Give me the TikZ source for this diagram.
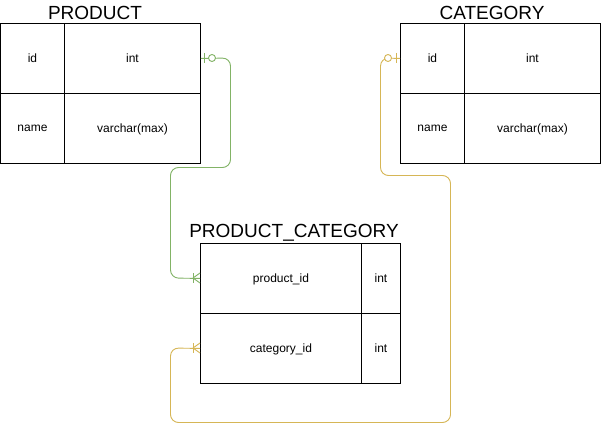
\documentclass[tikz,border=0pt]{standalone}
\usepackage{fontspec}
\setmainfont{Liberation Sans}
\definecolor{erGreen}{HTML}{82B366}
\definecolor{erGold}{HTML}{D6B656}
\begin{document}
\begin{tikzpicture}[x=1pt,y=-1pt,
  cell/.style={draw=black,line width=0.9pt,inner sep=0pt,anchor=north west,text depth=0pt,font=\fontsize{12}{14}\selectfont},
  ttl/.style={font=\fontsize{19}{22}\selectfont,inner sep=0pt},
  conn/.style={line width=0.9pt,rounded corners=8pt},
  mk/.style={line width=0.9pt}]
\fill[white] (0,0) rectangle (601,433);
\useasboundingbox (0,0) rectangle (601,433);
% PRODUCT
\node[ttl] (tprod) at (95,13) {PRODUCT};
\node[cell,minimum width=64pt,minimum height=70pt] (pidn) at (0,23) {id};
\node[cell,minimum width=136pt,minimum height=70pt] (pidt) at (64,23) {int};
\node[cell,minimum width=64pt,minimum height=70pt] (pnamen) at (0,93) {name};
\node[cell,minimum width=136pt,minimum height=70pt] (pnamet) at (64,93) {varchar(max)};
% CATEGORY
\node[ttl] (tcat) at (492,13) {CATEGORY};
\node[cell,minimum width=64pt,minimum height=70pt] (cidn) at (400,23) {id};
\node[cell,minimum width=136pt,minimum height=70pt] (cidt) at (464,23) {int};
\node[cell,minimum width=64pt,minimum height=70pt] (cnamen) at (400,93) {name};
\node[cell,minimum width=136pt,minimum height=70pt] (cnamet) at (464,93) {varchar(max)};
% PRODUCT_CATEGORY
\node[ttl] (tpc) at (294,233) {PRODUCT\_CATEGORY};
\node[cell,minimum width=161pt,minimum height=70pt] (pcpid) at (200,243) {product\_id};
\node[cell,minimum width=39pt,minimum height=70pt] (pcpidt) at (361,243) {int};
\node[cell,minimum width=161pt,minimum height=70pt] (pccid) at (200,313) {category\_id};
\node[cell,minimum width=39pt,minimum height=70pt] (pccidt) at (361,313) {int};
% green connector
\draw[conn,erGreen] (pidt.east) -- (230.5,58) -- (230.5,167.5) -- (170.5,167.5) -- (170.5,278) -- (pcpid.west);
\draw[mk,erGreen] (204,53) -- (204,63);
\draw[mk,erGreen,fill=white] (212,58) circle (3.5);
\draw[mk,erGreen] (193,273) -- (193,283);
\draw[mk,erGreen] (193,278) -- (200,273) (193,278) -- (200,283);
% gold connector
\draw[conn,erGold] (cidn.west) -- (380.5,58) -- (380.5,175.5) -- (450.5,175.5) -- (450.5,422.5) -- (170.5,422.5) -- (170.5,348) -- (pccid.west);
\draw[mk,erGold] (396,53) -- (396,63);
\draw[mk,erGold,fill=white] (388,58) circle (3.5);
\draw[mk,erGold] (193,343) -- (193,353);
\draw[mk,erGold] (193,348) -- (200,343) (193,348) -- (200,353);
\end{tikzpicture}
\end{document}
